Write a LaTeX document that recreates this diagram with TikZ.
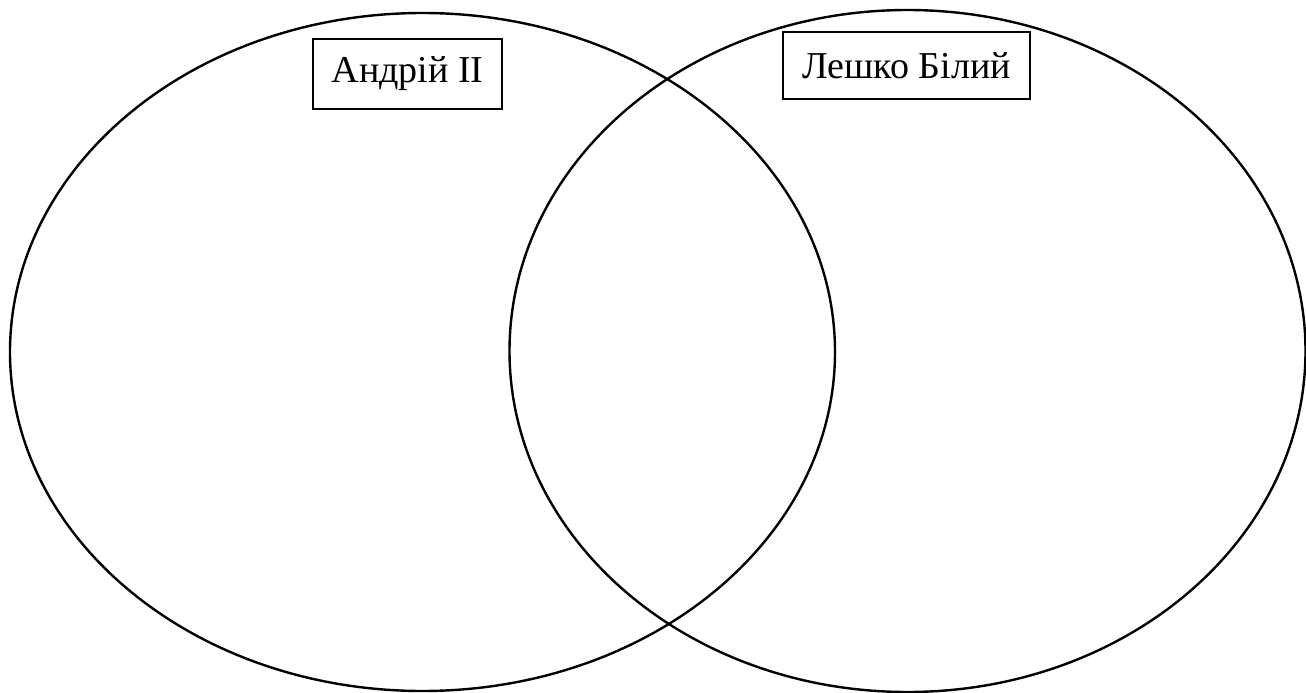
\documentclass[tikz,border=0pt]{standalone}
\usepackage{fontspec}
\setmainfont{Liberation Serif}
\usetikzlibrary{shapes.geometric}
\begin{document}
\begin{tikzpicture}[x=1pt,y=-1pt,
  venn/.style={draw=black,line width=2.4pt,ellipse,inner sep=0pt},
  label box/.style={draw=black,line width=1.4pt,fill=white,rectangle,inner sep=0pt,
    font=\fontsize{38}{44}\selectfont}]
\useasboundingbox (0,0) rectangle (1306,693);
\node[venn,minimum width=825pt,minimum height=678pt] (left) at (422.5,352) {};
\node[venn,minimum width=796pt,minimum height=682pt] (right) at (907.5,351) {};
\node[label box,minimum width=189pt,minimum height=70pt] (andrii) at (407.5,74) {Андрій ІІ};
\node[label box,minimum width=247pt,minimum height=67pt] (leshko) at (906.5,65.5) {Лешко Білий};
\end{tikzpicture}
\end{document}
